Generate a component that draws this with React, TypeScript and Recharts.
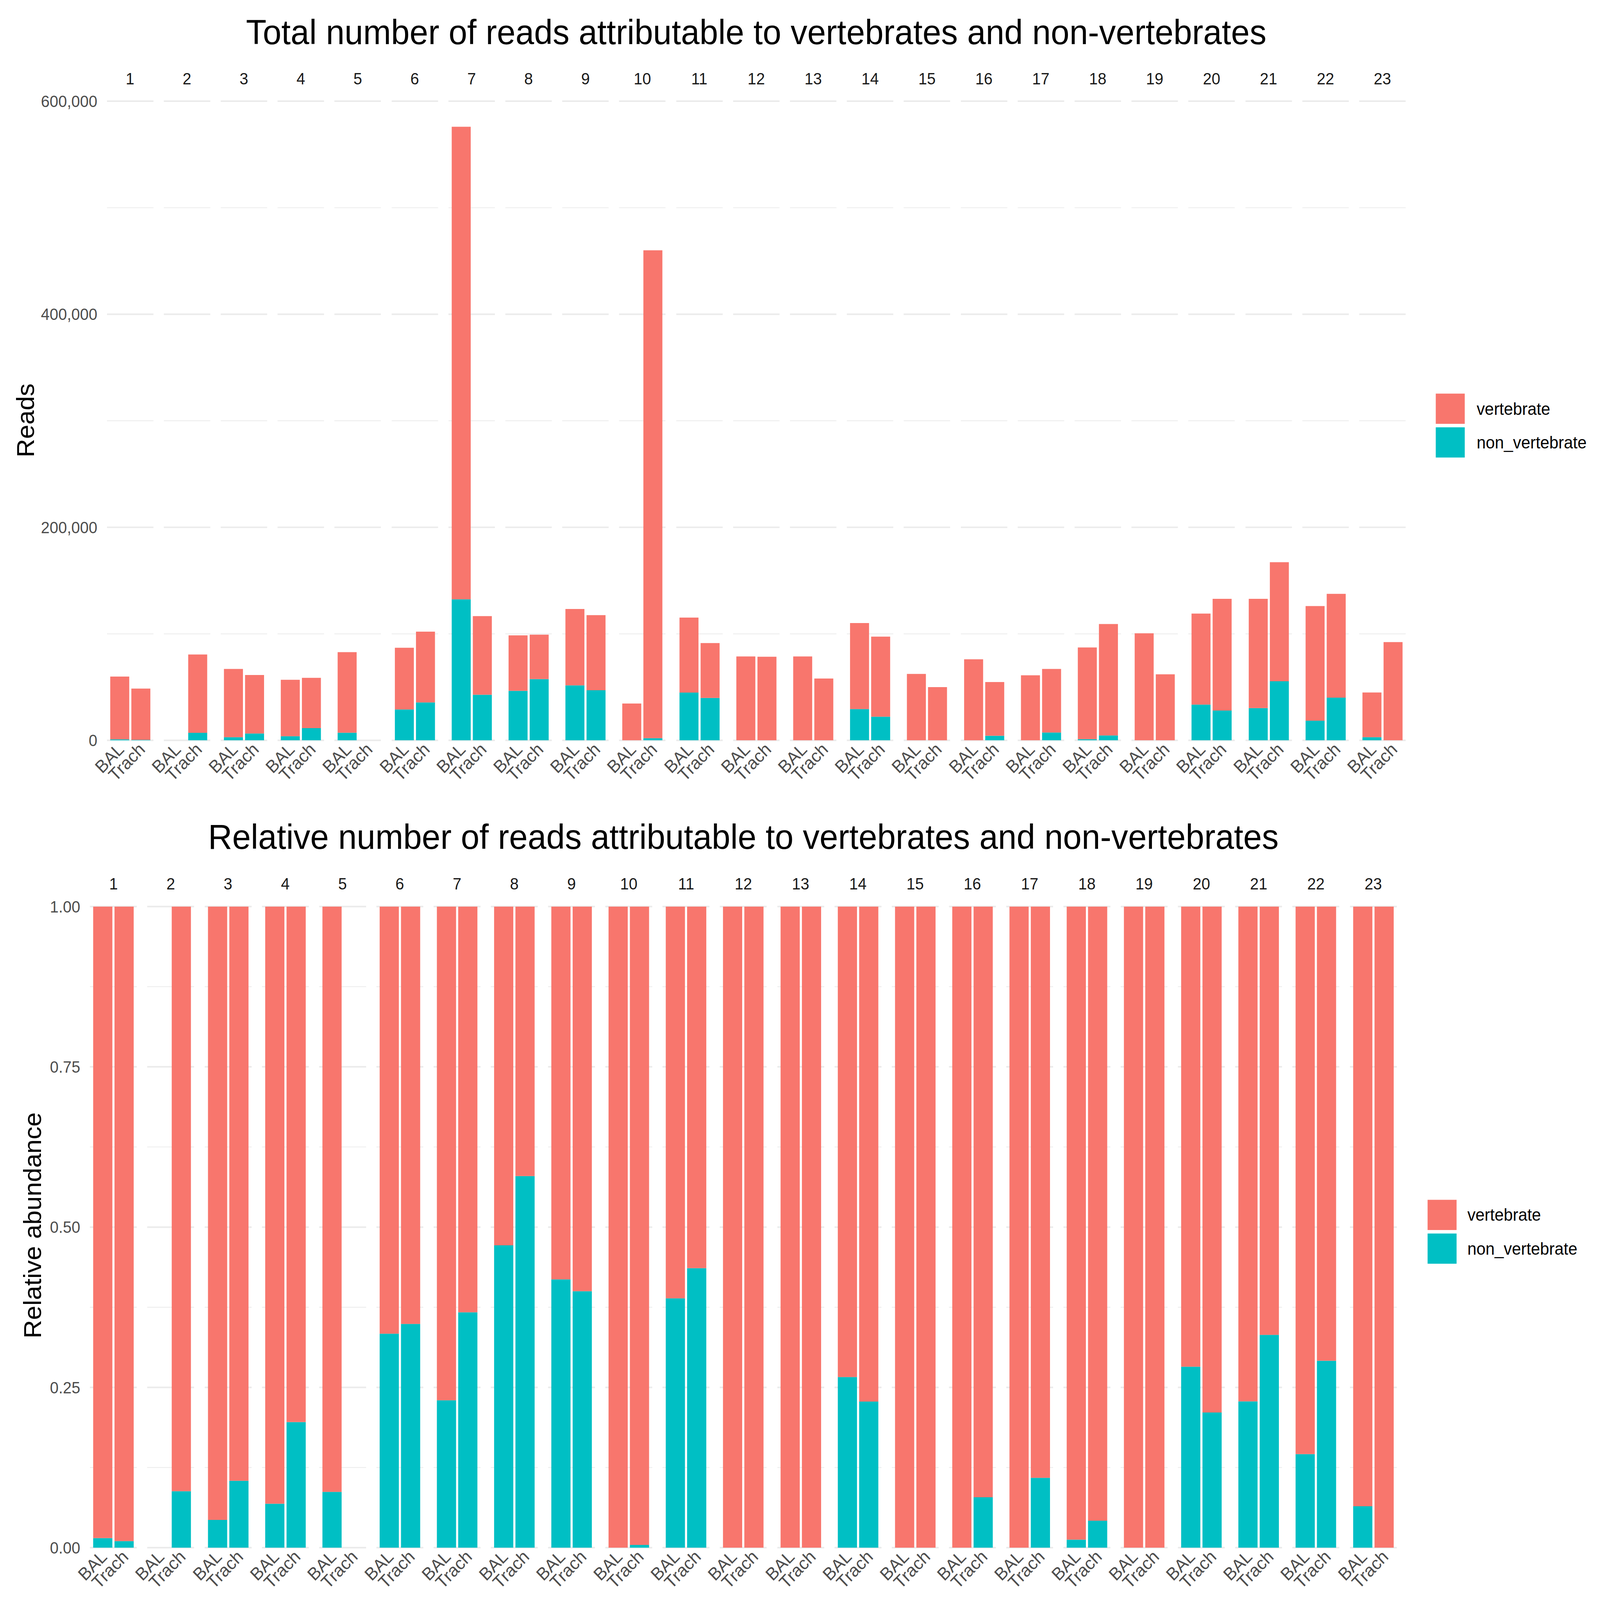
import React from 'react';
import { BarChart, Bar, XAxis, YAxis, CartesianGrid } from 'recharts';

// ---------- data ----------
const FACETS = ['1','2','3','4','5','6','7','8','9','10','11','12','13','14','15','16','17','18','19','20','21','22','23'];
const SAMPLES = ['BAL', 'Trach'];
const SERIES = ['vertebrate', 'non_vertebrate'];

const balVertebrate = [59000, 0, 64100, 52900, 75600, 57900, 443600, 52100, 71700, 34600, 70400, 78800, 78800, 80800, 62300, 76100, 61100, 86100, 100500, 85400, 102500, 107700, 42000];
const balNonVertebrate = [900, 0, 2900, 3900, 7200, 29000, 132400, 46500, 51600, 0, 44800, 0, 0, 29300, 0, 0, 0, 1100, 0, 33600, 30300, 18400, 2900];
const trachVertebrate = [48100, 73500, 54900, 47200, 0, 66400, 73800, 41700, 70500, 458000, 51500, 78500, 58000, 75200, 50000, 50400, 59700, 104600, 62000, 104800, 111700, 97400, 92200];
const trachNonVertebrate = [500, 7100, 6400, 11500, 0, 35600, 42800, 57500, 47000, 2000, 39800, 0, 0, 22200, 0, 4300, 7300, 4600, 0, 28000, 55500, 40100, 0];

const topMajorTicks = [0, 200000, 400000, 600000];
const topMinorTicks = [100000, 300000, 500000];
const botMajorTicks = [0, 0.25, 0.5, 0.75, 1];
const botMinorTicks = [0.125, 0.375, 0.625, 0.875];

const TOP_TITLE = 'Total number of reads attributable to vertebrates and non-vertebrates';
const BOT_TITLE = 'Relative number of reads attributable to vertebrates and non-vertebrates';

const COLORS: Record<string, string> = { vertebrate: '#F8766D', non_vertebrate: '#00BFC4' };

const facetData = FACETS.map((f, i) => [
  { sample: SAMPLES[0], vertebrate: balVertebrate[i], non_vertebrate: balNonVertebrate[i] },
  { sample: SAMPLES[1], vertebrate: trachVertebrate[i], non_vertebrate: trachNonVertebrate[i] },
]);

// ---------- layout ----------
const FONT = '"Liberation Sans", Arial, Helvetica, sans-serif';
const DESIGN_W = 4306;
const DESIGN_H = 4130;
const VIEW = 4096; // the browser viewport is clamped to 4096 x 4096
const XH = 120;

const TOP = { x0: 287.5, step: 153.2, w: 125, top: 248, bottom: 1911, axisW: 240 };
const BOT = { x0: 242.3, step: 154.1, w: 126.3, top: 2340, bottom: 3995, axisW: 200 };

const XTick = (props: any) => {
  const { x, y, payload } = props;
  return (
    <text x={x} y={y} dy="0.44em" textAnchor="end" transform={`rotate(-45 ${x} ${y})`} fill="#4D4D4D" fontSize={46}>
      {payload.value}
    </text>
  );
};

const fmtReads = (v: number) => v.toLocaleString('en-US');
const fmtRel = (v: number) => v.toFixed(2);

function Facet(props: {
  data: any[]; left: number; top: number; panelW: number; panelH: number; axisW: number;
  domain: [number, number]; majors: number[]; minors: number[]; fmt: (v: number) => string; expand: boolean;
}) {
  const { data, left, top, panelW, panelH, axisW, domain, majors, minors, fmt, expand } = props;
  const unit = panelW / 2.2;
  const showAxis = axisW > 0;
  return (
    <div style={{ position: 'absolute', left: left - axisW, top }}>
      <BarChart
        width={panelW + axisW}
        height={panelH + XH}
        data={data}
        margin={{ top: 0, right: 0, left: 0, bottom: 0 }}
        stackOffset={expand ? 'expand' : 'none'}
        barCategoryGap={0}
      >
        <CartesianGrid vertical={false} horizontalValues={minors} stroke="#EDEDED" strokeWidth={2.2} />
        <CartesianGrid vertical={false} horizontalValues={majors} stroke="#EBEBEB" strokeWidth={4} />
        <XAxis dataKey="sample" type="category" interval={0} padding={{ left: unit * 0.1, right: unit * 0.1 }}
          tickLine={false} axisLine={false} tickSize={0} tickMargin={12} height={XH} tick={<XTick />} />
        <YAxis type="number" domain={domain} allowDataOverflow hide={!showAxis} width={showAxis ? axisW : 0}
          ticks={majors} interval={0} tickFormatter={fmt} tick={{ fill: '#4D4D4D', fontSize: 42 }}
          tickLine={false} axisLine={false} tickSize={0} tickMargin={26} />
        <Bar dataKey="non_vertebrate" stackId="s" fill={COLORS.non_vertebrate} barSize={unit * 0.9} isAnimationActive={false} />
        <Bar dataKey="vertebrate" stackId="s" fill={COLORS.vertebrate} barSize={unit * 0.9} isAnimationActive={false} />
      </BarChart>
    </div>
  );
}

function Legend(props: { x: number; y: number; textX: number }) {
  const { x, y, textX } = props;
  return (
    <g>
      {SERIES.map((s, i) => (
        <g key={s}>
          <rect x={x} y={y + i * 87} width={78} height={78} fill={COLORS[s]} />
          <text x={textX} y={y + i * 87 + 39} dominantBaseline="central" fontSize={44} fill="#000">{s}</text>
        </g>
      ))}
    </g>
  );
}

export default function App() {
  const topH = TOP.bottom - TOP.top;
  const botH = BOT.bottom - BOT.top;
  const sx = VIEW / DESIGN_W;
  const sy = VIEW / DESIGN_H;
  return (
    <div style={{ position: 'absolute', left: 0, top: 0, width: VIEW, height: VIEW, overflow: 'hidden', background: '#fff' }}>
      <style>{`.recharts-surface{overflow:visible}`}</style>
      <div
        style={{
          position: 'absolute', left: 0, top: 0, width: DESIGN_W, height: DESIGN_H,
          background: '#fff', fontFamily: FONT,
          transform: `scale(${sx}, ${sy})`, transformOrigin: '0 0',
        }}
      >
        <svg width={DESIGN_W} height={DESIGN_H} style={{ position: 'absolute', left: 0, top: 0 }}>
          <text x={(TOP.x0 + TOP.x0 + 22 * TOP.step + TOP.w) / 2} y={114} textAnchor="middle" fontSize={90} fill="#000">{TOP_TITLE}</text>
          <text x={(BOT.x0 + BOT.x0 + 22 * BOT.step + BOT.w) / 2} y={2191} textAnchor="middle" fontSize={90} fill="#000">{BOT_TITLE}</text>
          {FACETS.map((f, i) => (
            <text key={'ts' + f} x={TOP.x0 + i * TOP.step + TOP.w / 2} y={218} textAnchor="middle" fontSize={42} fill="#1A1A1A">{f}</text>
          ))}
          {FACETS.map((f, i) => (
            <text key={'bs' + f} x={BOT.x0 + i * BOT.step + BOT.w / 2} y={2296} textAnchor="middle" fontSize={42} fill="#1A1A1A">{f}</text>
          ))}
          <text x={69} y={1085} transform="rotate(-90 69 1085)" textAnchor="middle" dominantBaseline="central" fontSize={66} fill="#000">Reads</text>
          <text x={88} y={3163} transform="rotate(-90 88 3163)" textAnchor="middle" dominantBaseline="central" fontSize={66} fill="#000">Relative abundance</text>
          <Legend x={3864} y={1016} textX={3974} />
          <Legend x={3842} y={3097} textX={3949} />
        </svg>
        {facetData.map((d, i) => (
          <Facet key={'t' + i} data={d} left={TOP.x0 + i * TOP.step} top={TOP.top} panelW={TOP.w} panelH={topH}
            axisW={i === 0 ? TOP.axisW : 0} domain={[0, 604800]} majors={topMajorTicks} minors={topMinorTicks} fmt={fmtReads} expand={false} />
        ))}
        {facetData.map((d, i) => (
          <Facet key={'b' + i} data={d} left={BOT.x0 + i * BOT.step} top={BOT.top} panelW={BOT.w} panelH={botH}
            axisW={i === 0 ? BOT.axisW : 0} domain={[0, 1]} majors={botMajorTicks} minors={botMinorTicks} fmt={fmtRel} expand={true} />
        ))}
      </div>
    </div>
  );
}
